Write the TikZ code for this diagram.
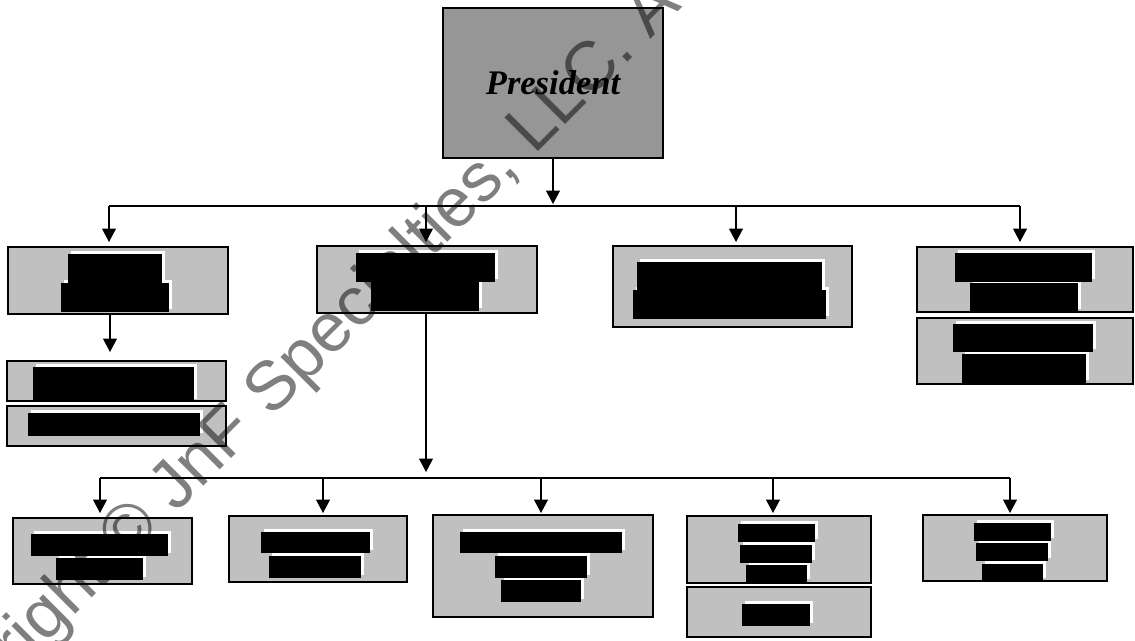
\documentclass[tikz,border=0pt]{standalone}
\usepackage{fontspec}
\setmainfont{Liberation Serif}
\newfontfamily\wmfont{Liberation Sans}
\usetikzlibrary{arrows.meta}
\definecolor{boxgray}{RGB}{192,192,192}
\definecolor{presgray}{RGB}{150,150,150}
\tikzset{
  orgbox/.style={draw=black, line width=1.7pt, fill=boxgray, rectangle, inner sep=0pt},
  presbox/.style={draw=black, line width=1.7pt, fill=presgray, rectangle, inner sep=0pt,
    font=\fontsize{34.5}{40}\selectfont\bfseries\itshape},
  conn/.style={draw=black, line width=1.2pt},
  arr/.style={conn, -{Triangle[width=14pt,length=13.5pt]}},
  wmark/.style={text=black, text opacity=0.5, inner sep=0pt, rotate=45, anchor=base west,
    font=\wmfont\fontsize{69}{78}\selectfont}
}
\begin{document}
\begin{tikzpicture}[x=1pt,y=-1pt]
\useasboundingbox (0,0) rectangle (1135,640);
\fill[white] (0,0) rectangle (1135,640);

% boxes
\node[presbox, minimum width=220pt, minimum height=150pt] (pres) at (553,83) {President};
\node[orgbox, minimum width=220pt, minimum height=67pt] (b1) at (118,280.5) {};
\node[orgbox, minimum width=220pt, minimum height=67pt] (b2) at (427,279.5) {};
\node[orgbox, minimum width=239pt, minimum height=81pt] (b3) at (732.5,286.5) {};
\node[orgbox, minimum width=216pt, minimum height=65pt] (b4a) at (1025,279.5) {};
\node[orgbox, minimum width=216pt, minimum height=66pt] (b4b) at (1025,351) {};
\node[orgbox, minimum width=219pt, minimum height=40pt] (b1a) at (116.5,381) {};
\node[orgbox, minimum width=219pt, minimum height=40pt] (b1b) at (116.5,426) {};
\node[orgbox, minimum width=179pt, minimum height=66pt] (l1) at (102.5,551) {};
\node[orgbox, minimum width=178pt, minimum height=66pt] (l2) at (318,549) {};
\node[orgbox, minimum width=220pt, minimum height=102pt] (l3) at (543,566) {};
\node[orgbox, minimum width=184pt, minimum height=67pt] (l4a) at (779,549.5) {};
\node[orgbox, minimum width=184pt, minimum height=50pt] (l4b) at (779,612) {};
\node[orgbox, minimum width=184pt, minimum height=66pt] (l5) at (1015,548) {};

% upper connectors
\coordinate (hub) at (553,204);
\coordinate (busTL) at (109,206);
\coordinate (busTR) at (1020,206);
\coordinate (s2) at (426,206);
\coordinate (s3) at (736,206);
\coordinate (t1) at (109,242);
\coordinate (t2) at (426,242);
\coordinate (t3) at (736,242);
\coordinate (t4) at (1020,242);
\draw[arr] (pres.south) -- (hub);
\draw[conn] (busTL) -- (busTR);
\draw[arr] (busTL) -- (t1);
\draw[arr] (s2) -- (t2);
\draw[arr] (s3) -- (t3);
\draw[arr] (busTR) -- (t4);

% box1 to its sub-box
\coordinate (t1a) at (110,352);
\draw[arr] (b1.south -| t1a) -- (t1a);

% lower connectors
\coordinate (hub2) at (426,472);
\coordinate (busBL) at (100,478);
\coordinate (busBR) at (1010,478);
\coordinate (r2) at (323,478);
\coordinate (r3) at (541,478);
\coordinate (r4) at (773,478);
\coordinate (u1) at (100,513);
\coordinate (u2) at (323,513);
\coordinate (u3) at (541,513);
\coordinate (u4) at (773,513);
\coordinate (u5) at (1010,513);
\draw[arr] (b2.south -| hub2) -- (hub2);
\draw[conn] (busBL) -- (busBR);
\draw[arr] (busBL) -- (u1);
\draw[arr] (r2) -- (u2);
\draw[arr] (r3) -- (u3);
\draw[arr] (r4) -- (u4);
\draw[arr] (busBR) -- (u5);

% redaction bars: white offset first, then black
\def\barlist{68/254/162/283, 61/283/169/312,
  356/253/495/282, 371/282/479/311,
  637/262/822/290, 633/290/826/319,
  955/253/1092/282, 970/283/1078/312,
  953/324/1093/352, 962/354/1086/383,
  33/367/194/402,
  28/413/200/436,
  31/534/168/556, 56/558/143/580,
  261/532/370/553, 269/556/361/578,
  460/532/622/553, 495/556/587/578, 501/580/581/602,
  738/524/815/542, 740/545/812/563, 746/565/807/582,
  742/604/810/626,
  974/523/1051/541, 976/543/1048/561, 982/564/1043/581}
\foreach \a/\b/\c/\d in \barlist {
  \fill[white] (\a+2.5,\b-3) rectangle (\c+2.5,\d-3);
}
\foreach \a/\b/\c/\d in \barlist {
  \fill[black] (\a,\b) rectangle (\c,\d);
}

% watermark
\begin{scope}
\clip (0,0) rectangle (1135,640);
\node[wmark] (wm) at (-95.8,785.8) {Copyright © JnF Specialties, LLC. A};
\end{scope}
\end{tikzpicture}
\end{document}
